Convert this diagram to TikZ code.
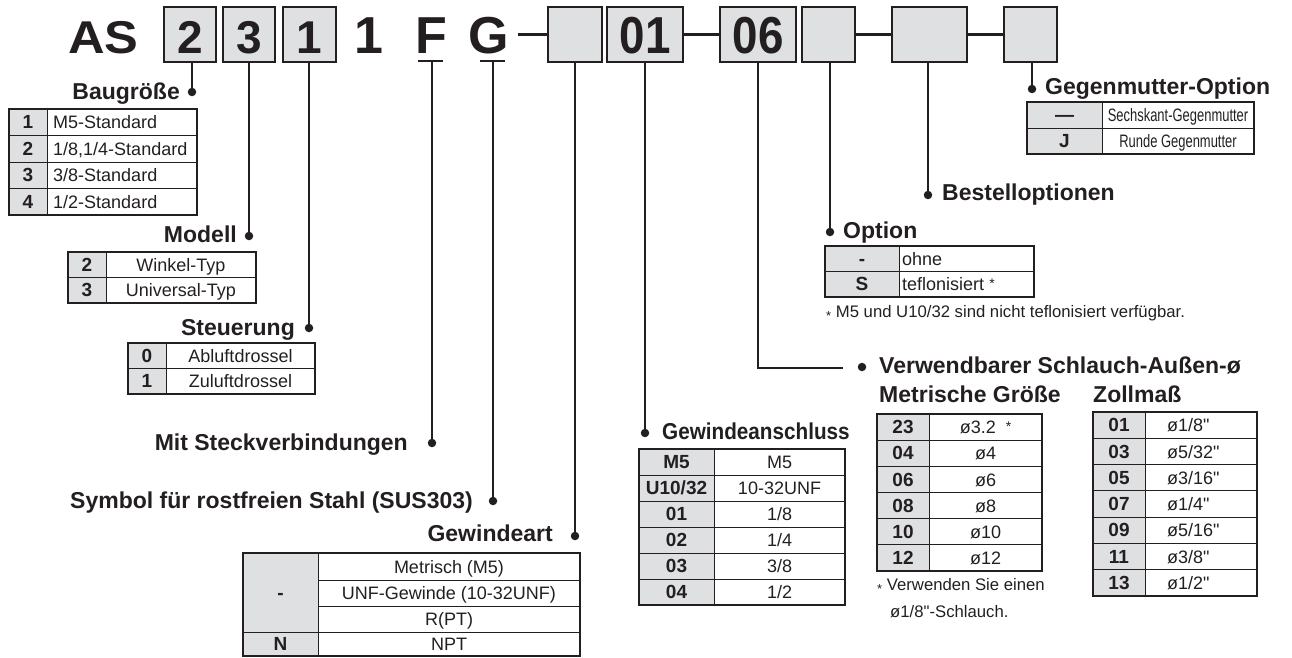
\documentclass[tikz,border=0pt]{standalone}
\usepackage{fontspec}
\setmainfont{Liberation Sans}[Ligatures=TeXOff]
\definecolor{ink}{HTML}{231F20}
\definecolor{keyfill}{HTML}{DFE0E2}
\tikzset{
 hdtxt/.style={font=\fontsize{46}{46}\selectfont\bfseries, text=ink, inner sep=0pt, anchor=base},
 hdbig/.style={font=\fontsize{52}{52}\selectfont\bfseries, text=ink, inner sep=0pt, anchor=base},
 hbox/.style={draw=ink, fill=keyfill, line width=2pt, inner sep=0pt},
 lead/.style={draw=ink, line width=1.8pt},
 ubar/.style={draw=ink, line width=2.5pt},
 joiner/.style={draw=ink, line width=3.6pt},
 dotn/.style={circle, fill=ink, inner sep=0pt, minimum size=8.5pt},
 lbl/.style={font=\fontsize{23}{23}\selectfont\bfseries, text=ink, inner sep=0pt},
 keytxt/.style={font=\fontsize{19}{19}\selectfont\bfseries, text=ink, inner sep=0pt, anchor=base},
 valtxt/.style={font=\fontsize{18}{18}\selectfont, text=ink, inner sep=0pt},
 fntxt/.style={font=\fontsize{16.7}{17}\selectfont, text=ink, inner sep=0pt, anchor=base west},
 tinner/.style={draw=ink, line width=0.9pt},
 touter/.style={draw=ink, line width=1.5pt},
}
% table frame: x0, xdiv, x1, y0, rowh, nrows
\newcommand\drawtab[6]{%
 \pgfmathsetmacro\ybot{#4+#6*#5}%
 \fill[keyfill] (#1,#4) rectangle (#2,\ybot);%
 \pgfmathtruncatemacro\nmid{#6-1}%
 \foreach \k in {1,...,\nmid}{\draw[tinner] (#1,{#4+\k*#5}) -- (#3,{#4+\k*#5});}%
 \draw[tinner] (#2,#4) -- (#2,\ybot);%
 \draw[touter] (#1,#4) rectangle (#3,\ybot);%
}
% table row: name, keyx, valx, valanchor, ycenter, key, value
\newcommand\trow[7]{%
 \node[keytxt] (#1k) at (#2,{#5+6.6}) {#6};%
 \node[valtxt,anchor=#4] (#1v) at (#3,{#5+6.6}) {#7};%
}
\newcommand\sast{{\fontsize{14}{14}\selectfont\raisebox{2pt}{*}}}
\newcommand\fast{\raisebox{-3pt}{\fontsize{13}{13}\selectfont *}}
\begin{document}
\begin{tikzpicture}[x=1pt,y=-1pt]
\useasboundingbox (0,0) rectangle (1292,657);
% ---------------- header ----------------
\node[hdtxt, anchor=base west] (AS) at (68,53) {\scalebox{1.1}[1]{AS}};
\node[hbox, minimum width=52pt, minimum height=55pt] (b1) at (190,34.5) {};
\node[hbox, minimum width=52pt, minimum height=55pt] (b2) at (249,34.5) {};
\node[hbox, minimum width=53pt, minimum height=55pt] (b3) at (309.5,34.5) {};
\node[hbox, minimum width=54pt, minimum height=55pt] (b4) at (575,34.5) {};
\node[hbox, minimum width=76pt, minimum height=55pt] (b5) at (645,34.5) {};
\node[hbox, minimum width=76pt, minimum height=55pt] (b6) at (758,34.5) {};
\node[hbox, minimum width=53pt, minimum height=55pt] (b7) at (828.5,34.5) {};
\node[hbox, minimum width=75pt, minimum height=55pt] (b8) at (929.5,34.5) {};
\node[hbox, minimum width=53pt, minimum height=55pt] (b9) at (1030.5,34.5) {};
\node[hdtxt] (b1t) at (190,53) {2};
\node[hdtxt] (b2t) at (249,53) {3};
\node[hdtxt] (b3t) at (309.5,53) {1};
\node[hdbig] (one) at (368.5,53) {1};
\node[hdbig] (F) at (431,53) {F};
\node[hdbig] (G) at (489,53) {G};
\node[hdbig] (b5t) at (645,53) {\scalebox{0.88}[1]{01}};
\node[hdbig] (b6t) at (758,53) {\scalebox{0.88}[1]{06}};
\coordinate (fa) at (418,61); \coordinate (fb) at (443,61);
\coordinate (ga) at (480,61); \coordinate (gb) at (505,61);
\draw[ubar] (fa) -- (fb);
\draw[ubar] (ga) -- (gb);
\coordinate (gj) at (518,34.5);
\draw[joiner] (gj) -- (b4.west);
\draw[joiner] (b5.east) -- (b6.west);
\draw[joiner] (b7.east) -- (b8.west);
\draw[joiner] (b8.east) -- (b9.west);
% ---------------- dots and leaders ----------------
\node[dotn] (d1) at (192,92) {};
\node[dotn] (d2) at (249,236) {};
\node[dotn] (d3) at (309,328) {};
\node[dotn] (d4) at (432,443) {};
\node[dotn] (d5) at (493,501) {};
\node[dotn] (d6) at (575,536) {};
\node[dotn] (d7) at (645,433) {};
\node[dotn] (d8) at (862,367) {};
\node[dotn] (d9) at (830,232) {};
\node[dotn] (d10) at (928,195) {};
\node[dotn] (d11) at (1032,89) {};
\coordinate (c6) at (843,368);
\draw[lead] (b1.south -| d1) -- (d1.center);
\draw[lead] (b2.south -| d2) -- (d2.center);
\draw[lead] (b3.south -| d3) -- (d3.center);
\draw[lead] (fa -| d4) -- (d4.center);
\draw[lead] (ga -| d5) -- (d5.center);
\draw[lead] (b4.south -| d6) -- (d6.center);
\draw[lead] (b5.south -| d7) -- (d7.center);
\draw[lead] (b6.south) -- (b6.south |- c6) -- (c6);
\draw[lead] (b7.south -| d9) -- (d9.center);
\draw[lead] (b8.south -| d10) -- (d10.center);
\draw[lead] (b9.south -| d11) -- (d11.center);
% ---------------- labels ----------------
\node[lbl, anchor=base east] (L1) at (180,99) {Baugröße};
\node[lbl, anchor=base east] (L2) at (237,242) {Modell};
\node[lbl, anchor=base east] (L3) at (295,335) {Steuerung};
\node[lbl, anchor=base east] (L4) at (408,450) {Mit Steckverbindungen};
\node[lbl, anchor=base east] (L5) at (473,508) {Symbol für rostfreien Stahl (SUS303)};
\node[lbl, anchor=base east] (L6) at (553,541) {Gewindeart};
\node[lbl, anchor=base west] (L7) at (662,439) {\scalebox{0.9}[1]{Gewindeanschluss}};
\node[lbl, anchor=base west] (L8) at (879,373) {Verwendbarer Schlauch-Außen-ø};
\node[lbl, anchor=base west] (L8a) at (879,402) {Metrische Größe};
\node[lbl, anchor=base west] (L8b) at (1093,402) {Zollmaß};
\node[lbl, anchor=base west] (L9) at (843,238) {Option};
\node[lbl, anchor=base west] (L10) at (942,200) {Bestelloptionen};
\node[lbl, anchor=base west] (L11) at (1045,94) {Gegenmutter-Option};
% ---------------- Baugröße table ----------------
\drawtab{9}{47}{197}{109}{26.5}{4}
\trow{ba1}{28}{53}{base west}{122.25}{1}{M5-Standard}
\trow{ba2}{28}{53}{base west}{148.75}{2}{1/8,1/4-Standard}
\trow{ba3}{28}{53}{base west}{175.25}{3}{3/8-Standard}
\trow{ba4}{28}{53}{base west}{201.75}{4}{1/2-Standard}
% ---------------- Modell table ----------------
\drawtab{68}{106}{256}{252}{25.5}{2}
\trow{mo1}{87}{181}{base}{264.75}{2}{Winkel-Typ}
\trow{mo2}{87}{181}{base}{290.25}{3}{Universal-Typ}
% ---------------- Steuerung table ----------------
\drawtab{128}{166}{315}{343}{25.5}{2}
\trow{st1}{147}{240.5}{base}{355.75}{0}{Abluftdrossel}
\trow{st2}{147}{240.5}{base}{381.25}{1}{Zuluftdrossel}
% ---------------- Gewindeart table ----------------
\fill[keyfill] (243,553) rectangle (318,656);
\draw[tinner] (318,580) -- (580,580);
\draw[tinner] (318,606) -- (580,606);
\draw[tinner] (243,632) -- (580,632);
\draw[tinner] (318,553) -- (318,656);
\draw[touter] (243,553) rectangle (580,656);
\node[keytxt] (gaK1) at (280.5,599.5) {-};
\node[keytxt] (gaK2) at (280.5,650.5) {N};
\node[valtxt, anchor=base] (gaV1) at (449,573) {Metrisch (M5)};
\node[valtxt, anchor=base] (gaV2) at (449,599.5) {UNF-Gewinde (10-32UNF)};
\node[valtxt, anchor=base] (gaV3) at (449,625.5) {R(PT)};
\node[valtxt, anchor=base] (gaV4) at (449,650.5) {NPT};
% ---------------- Gewindeanschluss table ----------------
\drawtab{639}{714}{845}{449}{26}{6}
\trow{gw1}{676.5}{779.5}{base}{462}{M5}{M5}
\trow{gw2}{676.5}{779.5}{base}{488}{U10/32}{10-32UNF}
\trow{gw3}{676.5}{779.5}{base}{514}{01}{1/8}
\trow{gw4}{676.5}{779.5}{base}{540}{02}{1/4}
\trow{gw5}{676.5}{779.5}{base}{566}{03}{3/8}
\trow{gw6}{676.5}{779.5}{base}{592}{04}{1/2}
% ---------------- Metric table ----------------
\drawtab{877}{929}{1042}{414}{26.17}{6}
\trow{me1}{903}{985.5}{base}{427.1}{23}{ø3.2\hspace{10pt}\sast}
\trow{me2}{903}{985.5}{base}{453.25}{04}{ø4}
\trow{me3}{903}{985.5}{base}{479.4}{06}{ø6}
\trow{me4}{903}{985.5}{base}{505.6}{08}{ø8}
\trow{me5}{903}{985.5}{base}{531.8}{10}{ø10}
\trow{me6}{903}{985.5}{base}{557.9}{12}{ø12}
\node[fntxt] (fn2a) at (877,590) {\fast\ Verwenden Sie einen};
\node[fntxt] (fn2b) at (890,617) {ø1/8"-Schlauch.};
% ---------------- Zoll table ----------------
\drawtab{1093}{1145}{1257}{412}{26.29}{7}
\trow{zo1}{1119}{1167}{base west}{425.1}{01}{ø1/8"}
\trow{zo2}{1119}{1167}{base west}{451.4}{03}{ø5/32"}
\trow{zo3}{1119}{1167}{base west}{477.7}{05}{ø3/16"}
\trow{zo4}{1119}{1167}{base west}{504.0}{07}{ø1/4"}
\trow{zo5}{1119}{1167}{base west}{530.3}{09}{ø5/16"}
\trow{zo6}{1119}{1167}{base west}{556.6}{11}{ø3/8"}
\trow{zo7}{1119}{1167}{base west}{582.9}{13}{ø1/2"}
% ---------------- Option table ----------------
\drawtab{825}{899}{1034}{246}{25.5}{2}
\trow{op1}{862}{902}{base west}{258.75}{-}{ohne}
\trow{op2}{862}{902}{base west}{284.25}{S}{teflonisiert \sast}
\node[fntxt] (fn1) at (826,317) {\fast\ M5 und U10/32 sind nicht teflonisiert verfügbar.};
% ---------------- Gegenmutter table ----------------
\drawtab{1027}{1102}{1254}{102}{26}{2}
\trow{ge1}{1064.5}{1178}{base}{115}{—}{\scalebox{0.72}[1]{Sechskant-Gegenmutter}}
\trow{ge2}{1064.5}{1178}{base}{141}{J}{\scalebox{0.72}[1]{Runde Gegenmutter}}
\end{tikzpicture}
\end{document}
